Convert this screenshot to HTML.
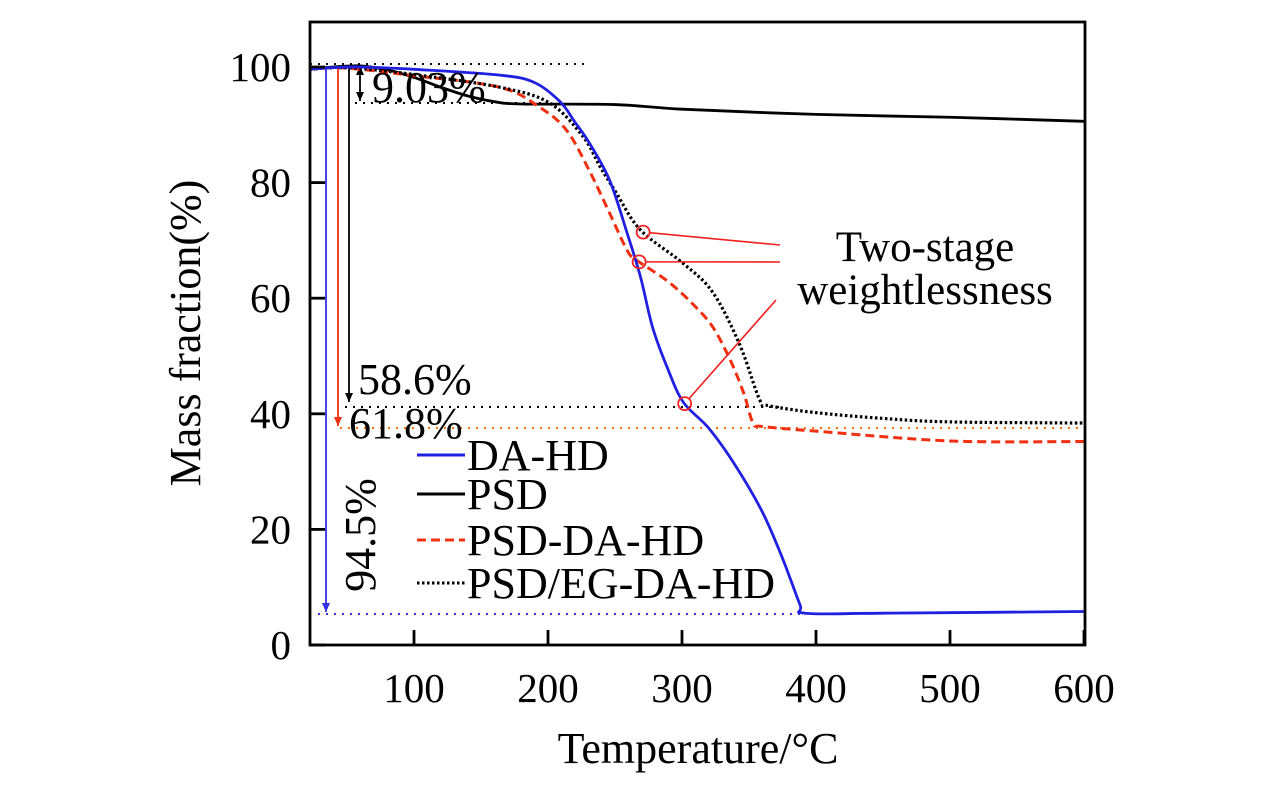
<!DOCTYPE html>
<html><head><meta charset="utf-8"><style>
body{margin:0;background:#fff}
svg text{font-family:"Liberation Serif",serif;fill:#000}
</style></head><body>
<svg id="c" width="1276" height="787" xmlns="http://www.w3.org/2000/svg"></svg>
<script>
const xTicks=[100,200,300,400,500,600];
const yTicks=[0,20,40,60,80,100];
const tDA=[22,40,60,100,164,190,209,220,231,246,259,269,278,289,301,320,340,360,375,388,392,450,600];
const mDA=[99.6,99.9,100,99.6,98.6,97.3,94,90.5,86.8,80.4,71.3,63.7,55,48,42,37.5,31,23,15,7,5.5,5.5,5.8];
const tPSD=[22,40,60,80,100,120,140,160,180,250,300,400,500,600];
const mPSD=[99.6,100,100.2,99.5,98.2,96.5,95,94,93.6,93.5,92.7,91.8,91.3,90.6];
const tRed=[22,50,100,164,194,214,231,246,259,266,289,308,323,336,346,353,360,400,500,600];
const mRed=[99.6,99.8,98.5,96.5,93,89,82,74.7,68.3,66.6,63,59,55,49.3,43.6,38.4,37.8,37,35.3,35.2];
const tEG=[22,50,100,164,201,226,239,251,269,301,323,343,358,365,400,450,500,600];
const mEG=[99.6,99.9,98.7,96.5,93.8,88,82.7,78.2,71.8,66,61,52,42.4,41.4,40.2,39.2,38.6,38.4];
const px=t=>280+1.34*t, py=m=>645-5.78*m;
const svg=document.getElementById('c'),NS='http://www.w3.org/2000/svg';
function mk(tag,at,txt){const e=document.createElementNS(NS,tag);for(const k in at)e.setAttribute(k,at[k]);if(txt!==undefined)e.textContent=txt;svg.appendChild(e);return e;}
function smooth(ts,ms){const p=ts.map((t,i)=>[px(t),py(ms[i])]);let d='M'+p[0];for(let i=0;i<p.length-1;i++){const p0=p[i-1]||p[i],p1=p[i],p2=p[i+1],p3=p[i+2]||p2;d+=`C${p1[0]+(p2[0]-p0[0])/6},${p1[1]+(p2[1]-p0[1])/6} ${p2[0]-(p3[0]-p1[0])/6},${p2[1]-(p3[1]-p1[1])/6} ${p2[0]},${p2[1]}`;}return d;}
let e;
e=mk('line',{x1:310,y1:64,x2:585,y2:64,stroke:'#000','stroke-width':2,'stroke-dasharray':'2,6'});
e=mk('line',{x1:355,y1:103,x2:545,y2:103,stroke:'#000','stroke-width':2,'stroke-dasharray':'2,6'});
e=mk('line',{x1:345,y1:407,x2:780,y2:407,stroke:'#000','stroke-width':2,'stroke-dasharray':'2,6'});
e=mk('line',{x1:340,y1:428,x2:1085,y2:428,stroke:'#f07010','stroke-width':2,'stroke-dasharray':'2,6'});
e=mk('line',{x1:318,y1:614,x2:800,y2:614,stroke:'#3030e0','stroke-width':2,'stroke-dasharray':'2,6'});
function arrow(x,y1,y2,c,name,both){const g=mk('g',{});
const l=document.createElementNS(NS,'line');[['x1',x],['y1',y1],['x2',x],['y2',y2],['stroke',c],['stroke-width',1.8]].forEach(a=>l.setAttribute(a[0],a[1]));g.appendChild(l);
const h=document.createElementNS(NS,'path');h.setAttribute('d',`M${x-4},${y2-9}L${x},${y2}L${x+4},${y2-9}Z`+(both?`M${x-4},${y1+9}L${x},${y1}L${x+4},${y1+9}Z`:''));h.setAttribute('fill',c);g.appendChild(h);}
arrow(326,67,612,'#3030e0','arrow-94-5');arrow(338,67,426,'#f03010','arrow-61-8');arrow(349,67,402,'#000','arrow-58-6');arrow(360,66,101,'#000','arrow-9-03',true);
e=mk('path',{d:smooth(tPSD,mPSD),fill:'none',stroke:'#000','stroke-width':2.8});
e=mk('path',{d:smooth(tRed,mRed),fill:'none',stroke:'#f03010','stroke-width':3,'stroke-dasharray':'9,5'});
e=mk('path',{d:smooth(tEG,mEG),fill:'none',stroke:'#000','stroke-width':3.2,'stroke-dasharray':'2.5,2.5'});
e=mk('path',{d:smooth(tDA,mDA),fill:'none',stroke:'#2020e0','stroke-width':2.8});
e=mk('rect',{x:310,y:22,width:775,height:623,fill:'none',stroke:'#000','stroke-width':2.8});
xTicks.forEach(t=>{e=mk('line',{x1:px(t),y1:645,x2:px(t),y2:630,stroke:'#000','stroke-width':2.8});
e=mk('text',{x:px(t),y:702,'font-size':41,'text-anchor':'middle'},t);});
yTicks.forEach(m=>{e=mk('line',{x1:310,y1:py(m),x2:325,y2:py(m),stroke:'#000','stroke-width':2.8});
e=mk('text',{x:291,y:py(m)+14,'font-size':41,'text-anchor':'end'},m);});
e=mk('text',{x:698,y:763,'font-size':44,'text-anchor':'middle'},'Temperature/°C');
e=mk('text',{x:0,y:0,'font-size':44,'text-anchor':'middle',transform:'translate(200,333) rotate(-90)'},'Mass fraction(%)');
e=mk('text',{x:372,y:102,'font-size':44},'9.03%');
e=mk('text',{x:358,y:394,'font-size':44},'58.6%');
e=mk('text',{x:349,y:438,'font-size':44},'61.8%');
e=mk('text',{x:0,y:0,'font-size':44,'text-anchor':'middle',transform:'translate(375,535) rotate(-90)'},'94.5%');
[[271,mEG,tEG,780,245],[268,mRed,tRed,780,262],[302,mDA,tDA,776,300]].forEach(a=>{const t=a[0];let ts=a[2],ms=a[1],j=ts.findIndex(v=>v>=t);const m=ms[j-1]+(ms[j]-ms[j-1])*(t-ts[j-1])/(ts[j]-ts[j-1]);
e=mk('circle',{cx:px(t),cy:py(m),r:6.5,fill:'none',stroke:'#f02020','stroke-width':1.8});
const cx=px(t),cy=py(m),dx=a[3]-cx,dy=a[4]-cy,L=Math.hypot(dx,dy);
e=mk('line',{x1:cx+dx/L*6.5,y1:cy+dy/L*6.5,x2:a[3],y2:a[4],stroke:'#f02020','stroke-width':1.6});});
e=mk('text',{x:925,y:261,'font-size':43,'text-anchor':'middle'},'Two-stage');
e=mk('text',{x:925,y:304,'font-size':43,'text-anchor':'middle'},'weightlessness');
[['DA-HD','#2020e0',null,455],['PSD','#000',null,494],['PSD-DA-HD','#f03010','9,5',540],['PSD/EG-DA-HD','#000','2.5,2.5',583]].forEach(r=>{
e=mk('line',{x1:417,y1:r[3],x2:465,y2:r[3],stroke:r[1],'stroke-width':3,'stroke-dasharray':r[2]||'none'});
e=mk('text',{x:467,y:r[3]+15,'font-size':44},r[0]);});
</script>
</body></html>
